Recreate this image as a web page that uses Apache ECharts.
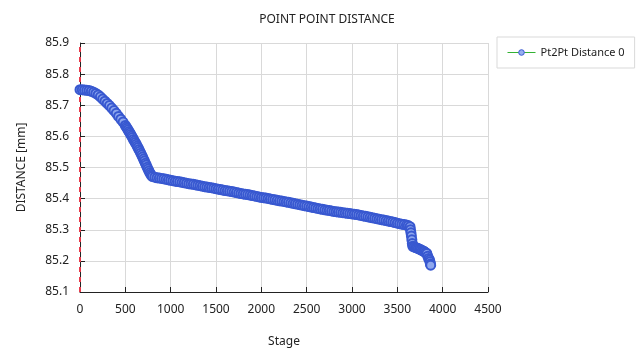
<!DOCTYPE html>
<html>
<head>
<meta charset="utf-8">
<script src="https://cdn.jsdelivr.net/npm/echarts@6/dist/echarts.min.js"></script>
<style>html,body{margin:0;padding:0;background:#fff}#c{width:644px;height:357px}</style>
</head>
<body>
<div id="c"></div>
<script>
const stages = [
  0,25,50,75,100,125,150,175,200,225,250,275,300,325,350,375,400,425,450,475,
  500,510,520,530,540,550,560,570,580,590,600,610,620,630,640,650,660,670,680,690,700,710,720,730,740,750,760,770,780,790,
  800,825,850,875,900,925,950,975,1000,1025,
  1050,1075,1100,1125,1150,1175,1200,1225,1250,1275,
  1300,1325,1350,1375,1400,1425,1450,1475,1500,1525,
  1550,1575,1600,1625,1650,1675,1700,1725,1750,1775,
  1800,1825,1850,1875,1900,1925,1950,1975,2000,2025,
  2050,2075,2100,2125,2150,2175,2200,2225,2250,2275,
  2300,2325,2350,2375,2400,2425,2450,2475,2500,2525,
  2550,2575,2600,2625,2650,2675,2700,2725,2750,2775,
  2800,2825,2850,2875,2900,2925,2950,2975,3000,3025,
  3050,3075,3100,3125,3150,3175,3200,3225,3250,3275,
  3300,3325,3350,3375,3400,3425,3450,3475,3500,3525,
  3550,3575,3600,3620,
  3640,3645,3650,3655,3660,3665,3670,3685,3700,3715,3730,3745,3760,3775,3790,3800,3812,3825,3835,3845,3855,3860,3865,3868
];
const distance = [
  85.750,85.750,85.749,85.748,85.747,85.745,85.742,85.738,85.733,85.727,85.720,85.713,85.706,85.699,85.691,85.683,85.674,85.664,85.655,85.646,
  85.635,85.630,85.626,85.621,85.616,85.611,85.606,85.601,85.596,85.590,85.585,85.580,85.575,85.569,85.564,85.558,85.552,85.546,85.540,85.534,85.527,85.521,85.514,85.508,85.501,85.495,85.489,85.483,85.478,85.474,
  85.471,85.469,85.467,85.466,85.465,85.4635,85.462,85.4605,85.459,85.4575,
  85.456,85.455,85.454,85.4525,85.451,85.4495,85.448,85.447,85.446,85.4445,
  85.443,85.4415,85.440,85.4385,85.437,85.436,85.435,85.4335,85.432,85.4305,
  85.429,85.4275,85.426,85.425,85.424,85.4225,85.421,85.4195,85.418,85.4165,
  85.415,85.414,85.413,85.4115,85.410,85.4085,85.407,85.4055,85.404,85.403,
  85.402,85.4005,85.399,85.3975,85.396,85.3945,85.393,85.392,85.391,85.3895,
  85.388,85.3865,85.385,85.3835,85.382,85.3805,85.379,85.3775,85.376,85.3745,
  85.373,85.3715,85.370,85.3685,85.367,85.3655,85.364,85.363,85.362,85.3605,
  85.359,85.358,85.357,85.356,85.355,85.354,85.353,85.352,85.351,85.350,
  85.349,85.3475,85.346,85.3445,85.343,85.3415,85.340,85.3385,85.337,85.3355,
  85.334,85.3325,85.331,85.3295,85.328,85.3265,85.325,85.323,85.321,85.3195,
  85.318,85.3165,85.315,85.3135,
  85.310,85.300,85.290,85.280,85.268,85.256,85.247,85.245,85.243,85.2415,85.2395,85.2375,85.2355,85.233,85.231,85.229,85.2265,85.224,85.215,85.208,85.203,85.197,85.190,85.186
];
const xTicks = [0, 4500, 500];
const yTicks = [85.1, 85.9, 0.1];
const seriesName = 'Pt2Pt Distance 0';
const titleText = 'POINT POINT DISTANCE';
const xName = 'Stage';
const yName = 'DISTANCE [mm]';

const font = '"Noto Sans", "DejaVu Sans", sans-serif';
const chart = echarts.init(document.getElementById('c'), null, {renderer: 'canvas'});
chart.setOption({
  animation: false,
  backgroundColor: '#fff',
  title: {
    text: titleText, top: 9, left: 322, textAlign: 'center',
    textStyle: {fontSize: 12, fontWeight: 'normal', color: '#222', fontFamily: font}
  },
  legend: {
    left: 497, top: 37, width: 115,
    padding: [10, 10, 10, 10],
    borderColor: '#d9d9d9', borderWidth: 1,
    itemWidth: 28, itemHeight: 7,
    lineStyle: {width: 1, color: '#33b233'},
    itemStyle: {color: '#97aef0', borderColor: '#3a5bd2', borderWidth: 1},
    textStyle: {fontSize: 11, color: '#222', fontFamily: font},
    data: [seriesName]
  },
  grid: {left: 80, right: 156, top: 43, bottom: 65, containLabel: false},
  xAxis: {
    type: 'value', min: xTicks[0], max: xTicks[1], interval: xTicks[2],
    name: xName, nameLocation: 'middle', nameGap: 44,
    nameTextStyle: {fontSize: 12, color: '#222', fontFamily: font},
    axisLine: {show: true, onZero: false, lineStyle: {color: '#222', width: 1}},
    axisTick: {show: true, inside: true, length: 5, lineStyle: {color: '#222'}},
    axisLabel: {fontSize: 12, color: '#222', margin: 12, fontFamily: font,
      formatter: v => String(v)},
    splitLine: {show: true, lineStyle: {color: '#d9d9d9', width: 1}}
  },
  yAxis: {
    type: 'value', min: yTicks[0], max: yTicks[1], interval: yTicks[2],
    name: yName, nameLocation: 'middle', nameGap: 52, nameRotate: 90,
    nameTextStyle: {fontSize: 12, color: '#222', fontFamily: font},
    axisLine: {show: true, lineStyle: {color: '#222', width: 1}},
    axisTick: {show: true, inside: true, length: 5, lineStyle: {color: '#222'}},
    axisLabel: {fontSize: 12, color: '#222', margin: 11, fontFamily: font,
      formatter: v => v.toFixed(1)},
    splitLine: {show: true, lineStyle: {color: '#d9d9d9', width: 1}}
  },
  series: [{
    name: seriesName,
    type: 'line',
    data: stages.map((s, i) => [s, distance[i]]),
    symbol: 'circle', symbolSize: 9, showAllSymbol: true,
    lineStyle: {color: '#33b233', width: 1},
    itemStyle: {color: '#8ea7ee', borderColor: '#3858d0', borderWidth: 2},
    z: 3,
    markLine: {
      silent: true, symbol: 'none', label: {show: false},
      lineStyle: {color: '#e8394a', type: [5, 5], width: 2},
      data: [{xAxis: 0}],
      z: 2
    }
  }]
});
</script>
</body>
</html>
